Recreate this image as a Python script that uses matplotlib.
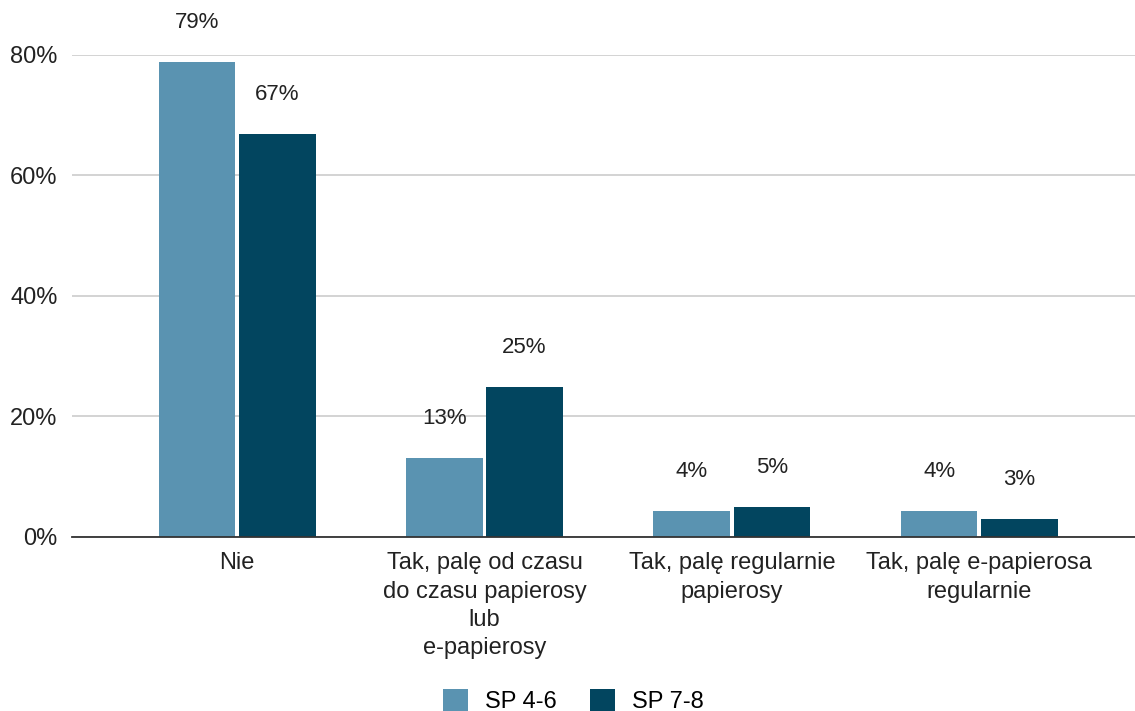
import numpy as np
import matplotlib
matplotlib.use("Agg")
import matplotlib.pyplot as plt

plt.rcParams['font.family'] = ['Liberation Sans', 'DejaVu Sans']

categories = ['Nie',
              'Tak, palę od czasu\ndo czasu papierosy\nlub\ne-papierosy',
              'Tak, palę regularnie\npapierosy',
              'Tak, palę e-papierosa\nregularnie']
sp46 = [0.788, 0.131, 0.043, 0.043]
sp78 = [0.668, 0.249, 0.050, 0.030]
series_names = ['SP 4-6', 'SP 7-8']
colors = ['#5a93b1', '#02455f']

fig = plt.figure(figsize=(11.35, 7.11), dpi=100)
ax = fig.add_axes([0.063, 0.245, 0.937, 0.678])

x = np.arange(len(categories))
width = 0.31
off = 0.162
b1 = ax.bar(x - off, sp46, width, color=colors[0], label=series_names[0], zorder=3)
b2 = ax.bar(x + off, sp78, width, color=colors[1], label=series_names[1], zorder=3)

for bars, vals in [(b1, sp46), (b2, sp78)]:
    for rect, v in zip(bars, vals):
        ax.annotate('%d%%' % round(v * 100),
                    (rect.get_x() + rect.get_width() / 2, v),
                    xytext=(0, 28.5), textcoords='offset points',
                    ha='center', va='center', fontsize=16, color='#222222',
                    annotation_clip=False)

ax.set_xlim(-0.67, 3.63)
ax.set_ylim(0, 0.8)
ax.set_yticks([0, 0.2, 0.4, 0.6, 0.8])
ax.set_yticklabels(['0%', '20%', '40%', '60%', '80%'], fontsize=17, color='#222222')
ax.set_xticks(x)
ax.set_xticklabels(categories, fontsize=17, color='#222222', linespacing=1.38)
ax.tick_params(axis='both', length=0)
ax.tick_params(axis='x', pad=11)
ax.tick_params(axis='y', pad=10)

ax.grid(axis='y', color='#cccccc', linewidth=1.2, zorder=0)
for s in ['top', 'right', 'left']:
    ax.spines[s].set_visible(False)
ax.spines['bottom'].set_color('#333333')
ax.spines['bottom'].set_linewidth(1.3)
ax.spines['bottom'].set_zorder(4)

fig.legend(handles=[b1, b2], labels=series_names, loc='lower center',
           bbox_to_anchor=(0.505, -0.033), ncol=2, frameon=False, fontsize=17,
           handlelength=1.06, handleheight=1.06, columnspacing=1.4, handletextpad=0.72)

fig.savefig('out.png', dpi=100)
